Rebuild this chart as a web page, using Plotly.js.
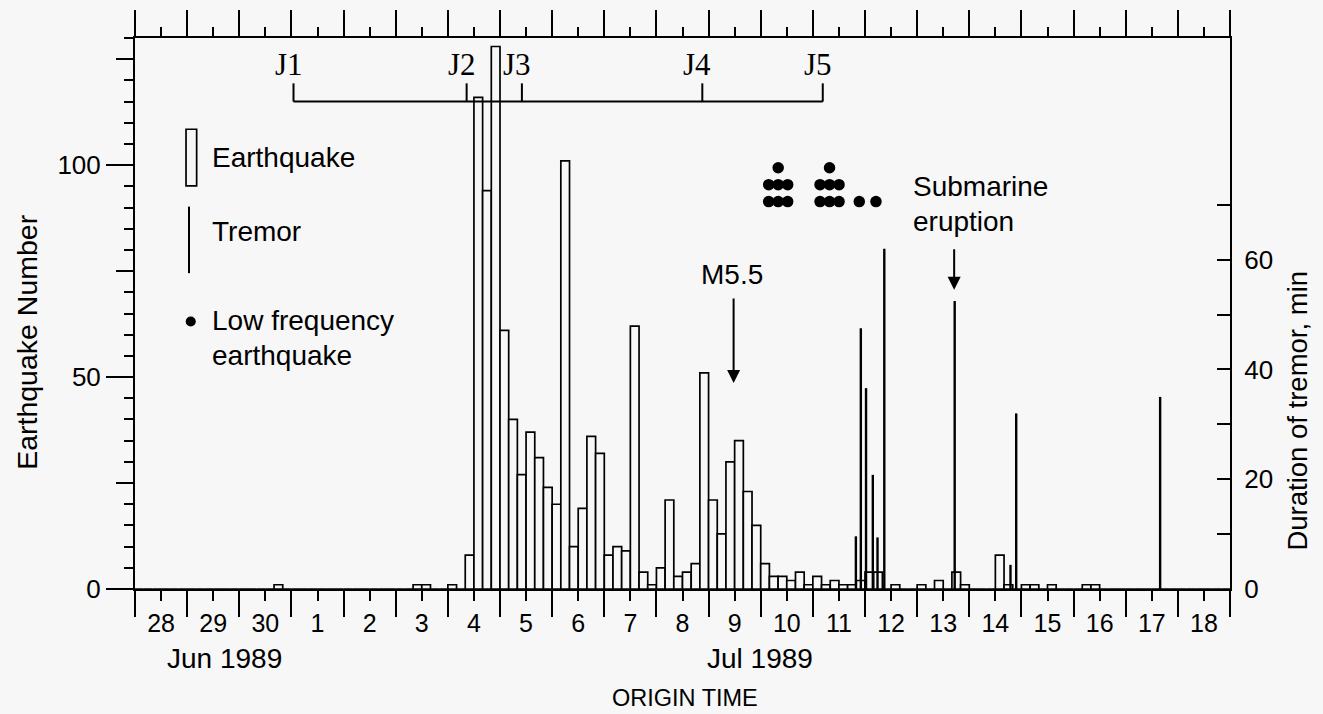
<!DOCTYPE html>
<html><head><meta charset="utf-8">
<script src="https://cdn.plot.ly/plotly-3.0.1.min.js"></script>
<style>html,body{margin:0;padding:0;background:#f7f7f7;} #chart{width:1323px;height:714px;}</style>
</head><body><div id="chart"></div>
<script>
// ---------------- DATA ----------------
// x in days from 28 Jun 1989 00:00; quake counts in 4-hour bins (6 per day)
const dayLabels = ['28','29','30','1','2','3','4','5','6','7','8','9','10','11','12','13','14','15','16','17','18'];
const monthLabels = ['Jun 1989', 'Jul 1989'];
const monthLabelDays = [1.71, 11.98];
const binsPerDay = 6;
const quakeCounts = [
  0, 0, 0, 0, 0, 0,        // Jun 28
  0, 0, 0, 0, 0, 0,        // Jun 29
  0, 0, 0, 0, 1, 0,        // Jun 30
  0, 0, 0, 0, 0, 0,        // Jul 1
  0, 0, 0, 0, 0, 0,        // Jul 2
  0, 0, 1, 1, 0, 0,        // Jul 3
  1, 0, 8, 116, 94, 128,   // Jul 4
  61, 40, 27, 37, 31, 24,  // Jul 5
  20, 101, 10, 19, 36, 32, // Jul 6
  8, 10, 9, 62, 4, 1,      // Jul 7
  5, 21, 3, 4, 6, 51,      // Jul 8
  21, 13, 30, 35, 23, 15,  // Jul 9
  6, 3, 3, 2, 4, 1,        // Jul 10
  3, 1, 2, 1, 1, 2,        // Jul 11
  4, 4, 0, 1, 0, 0,        // Jul 12
  1, 0, 2, 0, 4, 1,        // Jul 13
  0, 0, 0, 8, 1, 0,        // Jul 14
  1, 1, 0, 1, 0, 0,        // Jul 15
  0, 1, 1, 0, 0, 0,        // Jul 16
  0, 0, 0, 0, 0, 0,        // Jul 17
  0, 0, 0, 0, 0, 0         // Jul 18
];
const tremorTimes   = [13.825, 13.92, 14.02, 14.15, 14.24, 14.37, 15.72, 16.79, 16.90, 19.66];
const tremorMinutes = [9.6, 47.5, 36.6, 20.8, 9.4, 62, 52.5, 4.4, 32, 35];
const lfTimes  = [12.335, 13.32, 13.89, 14.21];
const lfCounts = [7, 7, 1, 1];
const jLabels = ['J1', 'J2', 'J3', 'J4', 'J5'];
const jTimes  = [3.04, 6.36, 7.42, 10.88, 13.19];
const m55Time = 11.48;
const eruptionTime = 15.71;

// ---------------- BUILD ----------------
const FONT = "'Liberation Sans', Arial, Helvetica, sans-serif";
const SERIF = "'Liberation Serif', 'DejaVu Serif', serif";
const BG = '#f7f7f7';
const nDays = dayLabels.length;
const noon = dayLabels.map((_, i) => i + 0.5);
const ints = Array.from({length: nDays + 1}, (_, i) => i);

const barX = quakeCounts.map((_, i) => (i + 0.5) / binsPerDay);
const bars = {type: 'bar', x: barX, y: quakeCounts, width: 1 / binsPerDay, xaxis: 'x', yaxis: 'y',
  marker: {color: BG, line: {color: 'black', width: 1.7}}, hoverinfo: 'skip'};

const trX = [], trY = [];
tremorTimes.forEach((t, i) => { trX.push(t, t, null); trY.push(0, tremorMinutes[i], null); });
const tremor = {type: 'scatter', mode: 'lines', x: trX, y: trY, xaxis: 'x', yaxis: 'y2',
  line: {color: 'black', width: 2.4}, hoverinfo: 'skip'};

// low-frequency earthquakes: stacked in rows of 3
const dx = 0.182, base = 91.4, rowStep = 4.0;
const lfX = [], lfY = [];
lfTimes.forEach((t, g) => {
  let left = lfCounts[g], r = 0;
  while (left > 0) {
    const c = Math.min(3, left);
    for (let k = 0; k < c; k++) { lfX.push(t + (k - (c - 1) / 2) * dx); lfY.push(base + r * rowStep); }
    left -= c; r++;
  }
});
const lf = {type: 'scatter', mode: 'markers', x: lfX, y: lfY, xaxis: 'x', yaxis: 'y',
  marker: {color: 'black', size: 11.5}, hoverinfo: 'skip'};

// J1..J5 bracket
const jLineY = 115, jTickY = 119.3;
const jX = [jTimes[0], jTimes[jTimes.length - 1], null], jY = [jLineY, jLineY, null];
jTimes.forEach(t => { jX.push(t, t, null); jY.push(jLineY, jTickY, null); });
const jTrace = {type: 'scatter', mode: 'lines', x: jX, y: jY, xaxis: 'x', yaxis: 'y',
  line: {color: 'black', width: 2}, hoverinfo: 'skip'};

const dummy = (xa, ya) => ({type: 'scatter', x: [null], y: [null], xaxis: xa, yaxis: ya, hoverinfo: 'skip', showlegend: false});

const ax = {showgrid: false, zeroline: false, ticks: 'outside', tickcolor: 'black', tickwidth: 2,
  linecolor: 'black', linewidth: 2, fixedrange: true};

const txt = (o) => Object.assign({showarrow: false, xanchor: 'center', yanchor: 'middle'}, o);
const annotations = [];
jTimes.forEach((t, i) => annotations.push(txt({x: t, y: 123.8, xref: 'x', yref: 'y', text: jLabels[i],
  xshift: -5, font: {family: SERIF, size: 31, color: 'black'}})));
monthLabels.forEach((m, i) => annotations.push(txt({x: monthLabelDays[i], y: -0.1264, xref: 'x', yref: 'paper', text: m,
  font: {family: FONT, size: 28}})));
annotations.push(
  {x: m55Time, y: 48.6, xref: 'x', yref: 'y', ax: 0, ay: -86, text: '', showarrow: true, arrowhead: 2, arrowsize: 1.3, arrowwidth: 2, arrowcolor: 'black'},
  txt({x: m55Time, y: 74.1, xref: 'x', yref: 'y', text: 'M5.5', xshift: -2, font: {family: FONT, size: 28}}),
  {x: eruptionTime, y: 70.6, xref: 'x', yref: 'y', ax: 0, ay: -42, text: '', showarrow: true, arrowhead: 2, arrowsize: 1.3, arrowwidth: 2, arrowcolor: 'black'},
  txt({x: 14.88, y: 94.9, xref: 'x', yref: 'y', xanchor: 'left', text: 'Submarine', font: {family: FONT, size: 28}}),
  txt({x: 14.88, y: 86.6, xref: 'x', yref: 'y', xanchor: 'left', text: 'eruption', font: {family: FONT, size: 28}}),
  txt({x: -0.0986, y: 0.4486, xref: 'paper', yref: 'paper', text: 'Earthquake Number', textangle: -90, font: {family: FONT, size: 28.5}}),
  txt({x: 1.0621, y: 0.3238, xref: 'paper', yref: 'paper', text: 'Duration of tremor, min', textangle: -90, font: {family: FONT, size: 27.5}}),
  txt({x: 0.5023, y: -0.197, xref: 'paper', yref: 'paper', text: 'ORIGIN TIME', font: {family: FONT, size: 23.5}}),
  txt({x: 0.0685, y: 0.7839, xref: 'paper', yref: 'paper', xanchor: 'left', text: 'Earthquake', font: {family: FONT, size: 28}}),
  txt({x: 0.0685, y: 0.6487, xref: 'paper', yref: 'paper', xanchor: 'left', text: 'Tremor', font: {family: FONT, size: 28}}),
  txt({x: 0.0685, y: 0.4876, xref: 'paper', yref: 'paper', xanchor: 'left', text: 'Low frequency', font: {family: FONT, size: 28}}),
  txt({x: 0.0685, y: 0.4241, xref: 'paper', yref: 'paper', xanchor: 'left', text: 'earthquake', font: {family: FONT, size: 28}})
);

const shapes = [
  {type: 'rect', xref: 'paper', yref: 'paper', x0: 0.0466, x1: 0.0563, y0: 0.7315, y1: 0.8344, line: {color: 'black', width: 1.7}, fillcolor: BG},
  {type: 'line', xref: 'paper', yref: 'paper', x0: 0.0493, x1: 0.0493, y0: 0.5732, y1: 0.694, line: {color: 'black', width: 2}},
  {type: 'circle', xref: 'paper', yref: 'paper', x0: 0.0509 - 0.0046, x1: 0.0509 + 0.0046, y0: 0.4854 - 0.0091, y1: 0.4854 + 0.0091, line: {color: 'black', width: 0}, fillcolor: 'black'}
];

const layout = {
  width: 1323, height: 714, margin: {l: 135, r: 93, t: 38, b: 124.7, pad: 0},
  paper_bgcolor: BG, plot_bgcolor: BG, showlegend: false, hovermode: false, bargap: 0,
  font: {family: FONT, size: 25, color: 'black'},
  xaxis: {...ax, range: [0, nDays], tickmode: 'array', tickvals: noon, ticktext: dayLabels, ticklen: 10, showline: true, ticklabelstandoff: 1, tickfont: {size: 25}},
  xaxis2: {...ax, overlaying: 'x', anchor: 'y', range: [0, nDays], tickmode: 'array', tickvals: ints, ticklen: 27, showticklabels: false, showline: false},
  xaxis3: {...ax, overlaying: 'x', anchor: 'y', side: 'top', range: [0, nDays], tickmode: 'array', tickvals: ints, ticklen: 26, showticklabels: false, showline: true},
  xaxis4: {...ax, overlaying: 'x', anchor: 'y', side: 'top', range: [0, nDays], tickmode: 'array', tickvals: noon, ticklen: 10, showticklabels: false, showline: false},
  yaxis: {...ax, range: [0, 130], tickmode: 'array', tickvals: [0, 50, 100], ticktext: ['0', '50', '100'], ticklen: 27, showline: true, tickfont: {size: 26}},
  yaxis3: {...ax, overlaying: 'y', anchor: 'x', side: 'left', range: [0, 130], tickmode: 'array', tickvals: [25, 75, 125], ticklen: 18, showticklabels: false, showline: false},
  yaxis4: {...ax, overlaying: 'y', anchor: 'x', side: 'left', range: [0, 130], tickmode: 'linear', tick0: 0, dtick: 5, ticklen: 10, showticklabels: false, showline: false},
  yaxis2: {...ax, overlaying: 'y', anchor: 'x', side: 'right', range: [0, 100.4], tickmode: 'array',
    tickvals: [0, 10, 20, 30, 40, 50, 60, 70], ticktext: ['0', '', '20', '', '40', '', '60', ''], ticks: 'inside', ticklen: 13, showline: true, ticklabelstandoff: 7, tickfont: {size: 26}},
  annotations, shapes
};

const data = [bars, tremor, lf, jTrace, dummy('x2', 'y'), dummy('x3', 'y'), dummy('x4', 'y'), dummy('x', 'y3'), dummy('x', 'y4')];
Plotly.newPlot('chart', data, layout, {staticPlot: true, displayModeBar: false});
</script></body></html>
